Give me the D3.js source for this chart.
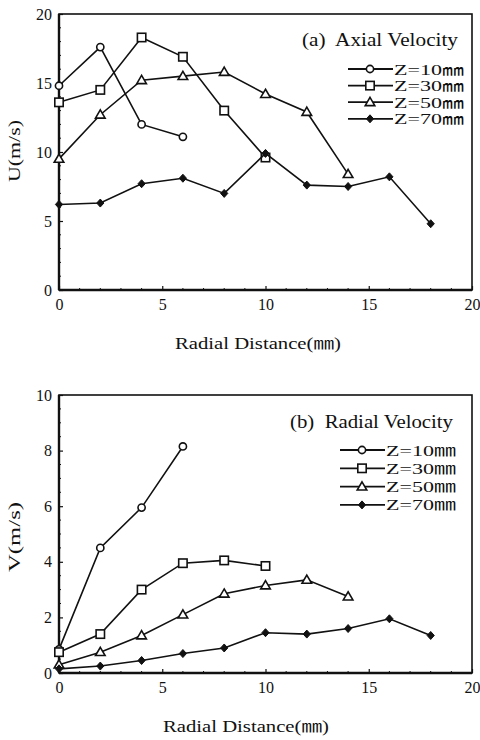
<!DOCTYPE html>
<html>
<head>
<meta charset="utf-8">
<script src="https://cdn.jsdelivr.net/npm/d3@7"></script>
<style>
  html, body { margin: 0; padding: 0; background: #fff; }
  svg { display: block; }
  text { font-family: "Liberation Serif", "DejaVu Serif", "Noto Sans CJK JP", serif; fill: #111; }
</style>
</head>
<body>
<svg id="fig" width="480" height="740"></svg>
<script>
// Radial positions (mm) sampled at each axial station
const radial = [0, 2, 4, 6, 8, 10, 12, 14, 16, 18];
const stations = ["Z=10㎜", "Z=30㎜", "Z=50㎜", "Z=70㎜"];
const symbols = ["circle", "square", "triangle", "diamond"];

// Axial velocity U (m/s)
const axialZ10 = [14.8, 17.6, 12.0, 11.1];
const axialZ30 = [13.6, 14.5, 18.3, 16.9, 13.0, 9.6];
const axialZ50 = [9.5, 12.7, 15.2, 15.5, 15.8, 14.2, 12.9, 8.4];
const axialZ70 = [6.2, 6.3, 7.7, 8.1, 7.0, 9.9, 7.6, 7.5, 8.2, 4.8];

// Radial velocity V (m/s)
const radialZ10 = [0.85, 4.5, 5.95, 8.15];
const radialZ30 = [0.75, 1.4, 3.0, 3.95, 4.05, 3.85];
const radialZ50 = [0.3, 0.75, 1.35, 2.1, 2.85, 3.15, 3.35, 2.75];
const radialZ70 = [0.15, 0.25, 0.45, 0.7, 0.9, 1.45, 1.4, 1.6, 1.95, 1.35];

const xTicks = [0, 5, 10, 15, 20];
const uTicks = [0, 5, 10, 15, 20];
const vTicks = [0, 2, 4, 6, 8, 10];

const svg = d3.select("#fig");

function marker(g, type, cx, cy) {
  if (type === "circle") {
    g.append("circle").attr("cx", cx).attr("cy", cy).attr("r", 3.6)
      .attr("fill", "#fff").attr("stroke", "#111").attr("stroke-width", 1.6);
  } else if (type === "square") {
    g.append("rect").attr("x", cx - 4.2).attr("y", cy - 4.2).attr("width", 8.4).attr("height", 8.4)
      .attr("fill", "#fff").attr("stroke", "#111").attr("stroke-width", 1.6);
  } else if (type === "triangle") {
    g.append("path").attr("d", `M${cx},${cy - 4.8}L${cx + 4.8},${cy + 3.4}L${cx - 4.8},${cy + 3.4}Z`)
      .attr("fill", "#fff").attr("stroke", "#111").attr("stroke-width", 1.6);
  } else {
    g.append("path").attr("d", `M${cx},${cy - 4}L${cx + 3.6},${cy}L${cx},${cy + 4}L${cx - 3.6},${cy}Z`)
      .attr("fill", "#111").attr("stroke", "#111").attr("stroke-width", 1);
  }
}

function panel(cfg) {
  const x = d3.scaleLinear().domain([0, 20]).range([cfg.left, cfg.right]);
  const y = d3.scaleLinear().domain([0, cfg.ymax]).range([cfg.bottom, cfg.top]);
  const g = svg.append("g");

  // frame
  g.append("rect").attr("x", cfg.left).attr("y", cfg.top)
    .attr("width", cfg.right - cfg.left).attr("height", cfg.bottom - cfg.top)
    .attr("fill", "none").attr("stroke", "#111").attr("stroke-width", 1.6);
  g.append("line").attr("x1", cfg.left).attr("x2", cfg.left).attr("y1", cfg.top).attr("y2", cfg.bottom)
    .attr("stroke", "#111").attr("stroke-width", 2.4);
  g.append("line").attr("x1", cfg.left).attr("x2", cfg.right).attr("y1", cfg.bottom).attr("y2", cfg.bottom)
    .attr("stroke", "#111").attr("stroke-width", 2.4);

  // inward ticks on bottom and left axes
  const xAxis = d3.axisBottom(x).tickValues(xTicks).tickSizeInner(-4).tickSizeOuter(0).tickPadding(9);
  const xg = g.append("g").attr("transform", `translate(0,${cfg.bottom})`).call(xAxis);
  const yAxis = d3.axisLeft(y).tickValues(cfg.yTicks).tickSizeInner(-4).tickSizeOuter(0).tickPadding(7);
  const yg = g.append("g").attr("transform", `translate(${cfg.left},0)`).call(yAxis);
  [xg, yg].forEach(a => {
    a.select(".domain").remove();
    a.selectAll(".tick line").attr("stroke", "#111").attr("stroke-width", 1.2);
    a.selectAll(".tick text").attr("font-size", 16).attr("fill", "#111")
      .attr("font-family", "Liberation Serif, serif");
  });
  // minor ticks
  g.append("g").selectAll("line").data(d3.range(1, 20).filter(v => v % 5 !== 0)).join("line")
    .attr("x1", d => x(d)).attr("x2", d => x(d)).attr("y1", cfg.bottom).attr("y2", cfg.bottom - 2)
    .attr("stroke", "#111").attr("stroke-width", 1);
  g.append("g").selectAll("line").data(d3.range(0, cfg.ymax, cfg.ymax / 20).filter(v => !cfg.yTicks.includes(v))).join("line")
    .attr("x1", cfg.left).attr("x2", cfg.left + 2).attr("y1", d => y(d)).attr("y2", d => y(d))
    .attr("stroke", "#111").attr("stroke-width", 1);

  // series lines and markers
  const line = d3.line().x(d => x(d[0])).y(d => y(d[1]));
  cfg.series.forEach((vals, i) => {
    const pts = vals.map((v, k) => [radial[k], v]);
    g.append("path").attr("d", line(pts)).attr("fill", "none")
      .attr("stroke", "#111").attr("stroke-width", 1.6);
    pts.forEach(p => marker(g, symbols[i], x(p[0]), y(p[1])));
  });

  // axis titles
  g.append("text").attr("x", cfg.xlabX).attr("y", cfg.bottom + cfg.xlabDy)
    .attr("font-size", 16).attr("textLength", 166).attr("lengthAdjust", "spacingAndGlyphs")
    .text("Radial Distance(㎜)");
  g.append("text").attr("transform", `translate(${cfg.ylabX},${cfg.ylabY}) rotate(-90)`)
    .attr("text-anchor", "middle").attr("font-size", 17)
    .attr("textLength", cfg.ylabLen).attr("lengthAdjust", "spacingAndGlyphs").text(cfg.ylabel);

  // panel title and legend
  g.append("text").attr("x", cfg.titleX).attr("y", cfg.titleY).attr("font-size", 18)
    .attr("xml:space", "preserve").attr("textLength", cfg.titleLen)
    .attr("lengthAdjust", "spacingAndGlyphs").text(cfg.title);
  stations.forEach((s, i) => {
    const ly = cfg.legY + i * cfg.legGap;
    g.append("line").attr("x1", cfg.legX).attr("x2", cfg.legX + 45).attr("y1", ly).attr("y2", ly)
      .attr("stroke", "#111").attr("stroke-width", 1.8);
    marker(g, symbols[i], cfg.legX + 22, ly);
    g.append("text").attr("x", cfg.legX + 46).attr("y", ly + 5.5).attr("font-size", cfg.legFont)
      .attr("textLength", 70).attr("lengthAdjust", "spacingAndGlyphs").text(s);
  });
}

panel({
  left: 59, right: 472, top: 14, bottom: 290, ymax: 20, yTicks: uTicks,
  series: [axialZ10, axialZ30, axialZ50, axialZ70],
  ylabel: "U(m/s)", ylabX: 20, ylabY: 151, ylabLen: 62,
  xlabX: 175, xlabDy: 59,
  title: "(a)  Axial Velocity", titleX: 302, titleY: 46, titleLen: 156,
  legX: 348, legY: 69, legGap: 16.6, legFont: 14
});

panel({
  left: 59, right: 472, top: 395, bottom: 673, ymax: 10, yTicks: vTicks,
  series: [radialZ10, radialZ30, radialZ50, radialZ70],
  ylabel: "V(m/s)", ylabX: 20, ylabY: 537, ylabLen: 70,
  xlabX: 163, xlabDy: 59,
  title: "(b)  Radial Velocity", titleX: 290, titleY: 428, titleLen: 163,
  legX: 340, legY: 450, legGap: 18.3, legFont: 15.5
});
</script>
</body>
</html>
